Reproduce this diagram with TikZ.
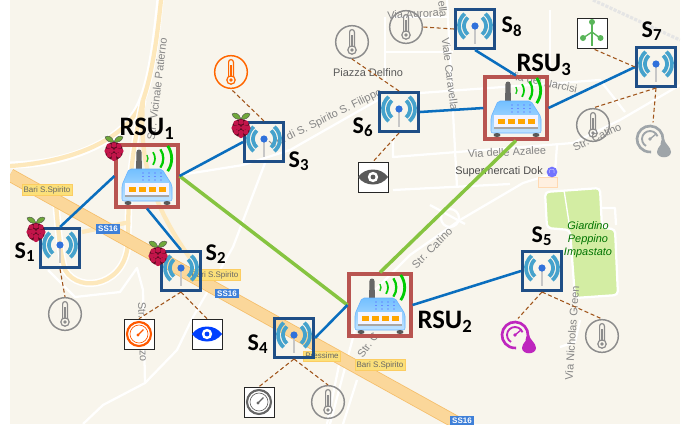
\documentclass[tikz,border=0pt]{standalone}
\usepackage{fontspec}
\usepackage{tikz}
\usetikzlibrary{positioning, arrows.meta}
\setmainfont{Liberation Sans}
\newfontfamily\labfont{Carlito}
\definecolor{map_bg}{HTML}{F8F5EC}
\definecolor{road_orange}{HTML}{FBD79A}
\definecolor{road_edge}{HTML}{F5BE6A}
\definecolor{road_yellow}{HTML}{FDE8BC}
\definecolor{park_green}{HTML}{D3EDA3}
\definecolor{box_navy}{HTML}{1F4E86}
\definecolor{rsu_red}{HTML}{B85450}
\definecolor{link_blue}{HTML}{0A6EBE}
\definecolor{link_green}{HTML}{86C440}
\definecolor{tie_brown}{HTML}{A0541A}
\definecolor{wifi_blue}{HTML}{45A2CC}
\definecolor{tag_yellow}{HTML}{FBE07A}
\definecolor{tag_blue}{HTML}{3F80D8}
\definecolor{berry_red}{HTML}{C2154A}
\definecolor{berry_dark}{HTML}{5A0A20}
\definecolor{leaf_green}{HTML}{6FA83A}
\newcommand{\sublab}[2]{#1\textsubscript{#2}}

\begin{document}
\begin{tikzpicture}[
    x=0.75pt,
    y=-0.75pt,
    every node/.style={align=center},
    map_text/.style={text=black!48, font=\fontsize{8.2}{10}\selectfont, inner sep=0pt},
    road_tag/.style={
        rectangle,
        fill=tag_yellow,
        draw=tag_yellow!80!orange,
        line width=0.3pt,
        text=black!60,
        inner sep=1.4pt,
        font=\fontsize{6}{6.5}\selectfont
    },
    ss_tag/.style={
        rectangle,
        fill=tag_blue,
        text=white,
        inner sep=1.6pt,
        font=\bfseries\fontsize{6}{6.5}\selectfont
    },
    road_white/.style={draw=white, line width=1.7pt, line join=round},
    road_soft/.style={draw=road_yellow, line width=3.2pt, line join=round},
    sensor_box/.style={
        rectangle,
        draw=box_navy,
        line width=2.3pt,
        minimum size=29.2pt,
        inner sep=0pt
    },
    rsu_box/.style={
        rectangle,
        draw=rsu_red,
        line width=2.3pt,
        minimum size=46.5pt,
        inner sep=0pt
    },
    ring_icon/.style={circle, draw=#1, line width=1.1pt, minimum size=24.5pt, inner sep=0pt},
    square_icon/.style={rectangle, draw=black!85, fill=white, line width=0.5pt, minimum size=22.5pt, inner sep=0pt},
    free_icon/.style={circle, minimum size=26pt, inner sep=0pt},
    lab/.style={font=\labfont\bfseries\fontsize{18}{20}\selectfont, inner sep=0pt},
    rsu_lab/.style={font=\labfont\bfseries\fontsize{20}{22}\selectfont, inner sep=0pt},
    wire/.style={draw=link_blue, line width=1.9pt},
    trunk/.style={draw=link_green, line width=2.6pt},
    tie/.style={draw=tie_brown, line width=0.8pt, densely dashed},
    pics/wifi/.style={code={
        \draw [line width=2.2pt, black!22] (0,-2) -- (0,15);
        \fill [wifi_blue!70!blue] (0,-3) circle (3.6);
        \draw [wifi_blue, line width=2.8pt] (7.1,-11.4) arc [start angle=-50, end angle=50, radius=11];
        \draw [wifi_blue, line width=2.8pt] (-7.1,-11.4) arc [start angle=230, end angle=130, radius=11];
        \draw [wifi_blue, line width=2.8pt] (10.3,-15.3) arc [start angle=-50, end angle=50, radius=16];
        \draw [wifi_blue, line width=2.8pt] (-10.3,-15.3) arc [start angle=230, end angle=130, radius=16];
    }},
    pics/router/.style={code={
        \fill [black!60] (-11,-6) -- (-10.5,-24) arc [start angle=180, end angle=360, radius=2.5] -- (-5,-6) -- cycle;
        \draw [top color=blue!45!cyan!55, bottom color=blue!45!cyan!25, draw=blue!50!cyan!60, line width=0.4pt, rounded corners=1.5pt]
            (-18,-7) -- (15,-7) -- (25,9) -- (25,25) -- (-25,25) -- (-25,9) -- cycle;
        \fill [white!70!blue!15] (-22,7) rectangle (22,19);
        \fill [black!35] (-22,19) rectangle (22,21);
        \foreach \px in {-15,-5,5,15} {
            \fill [orange!70!yellow] (\px-3.5,10.5) rectangle (\px+3.5,15.5);
        }
        \foreach \px in {-4,2,8,14} {
            \fill [blue!70] (\px,-3) circle (0.6);
            \fill [blue!70] (\px,0.5) circle (0.6);
            \fill [blue!70] (\px,4) circle (0.6);
        }
        \fill [black!65] (-19,27) ellipse (3.5 and 2);
        \fill [black!65] (20,27) ellipse (3.5 and 2);
        \draw [green!75!black!90, line width=1pt] (-0.1,-21) arc [start angle=-35, end angle=35, radius=6];
        \draw [green!80!black, line width=1.3pt] (6,-23.8) arc [start angle=-35, end angle=35, radius=11];
        \draw [green!80!black, line width=1.7pt] (13.4,-26.7) arc [start angle=-35, end angle=35, radius=16];
        \draw [green!80!black, line width=2.1pt] (20.7,-30.1) arc [start angle=-35, end angle=35, radius=22];
    }},
    pics/berry/.style={code={
        \fill [leaf_green, draw=black!70, line width=0.3pt] (0,-6) .. controls (-2,-12) and (-6,-13) .. (-9,-11) .. controls (-8,-7) and (-4,-5) .. (0,-6);
        \fill [leaf_green, draw=black!70, line width=0.3pt] (0,-6) .. controls (2,-12) and (6,-13) .. (9,-11) .. controls (8,-7) and (4,-5) .. (0,-6);
        \fill [berry_dark] (0,3) circle (9);
        \foreach \px/\py in {0/-3,-5/-2,5/-2,-2.7/2.5,2.7/2.5,-7/3,7/3,0/7.5,-4.8/7,4.8/7,0/10.5} {
            \fill [berry_red] (\px,\py) circle (2.6);
        }
    }},
    pics/therm/.style={code={
        \draw [#1, line width=0.9pt, fill=none] (-2.4,5) -- (-2.4,-10) arc [start angle=180, end angle=360, radius=2.4] -- (2.4,5);
        \draw [#1, line width=0.9pt] (0,8) circle (4.2);
        \fill [#1] (0,8) circle (1.9);
        \draw [#1, line width=0.8pt] (0,5) -- (0,-7);
    }},
    pics/gauge/.style={code={
        \draw [#1, line width=1.6pt] (0,0) circle (12);
        \draw [#1, line width=0.5pt] (0,0) circle (9);
        \draw [#1, line width=0.9pt] (-1,1) -- (4.5,-4.5);
        \fill [#1] (-1,1) circle (1.6);
    }},
    pics/eye/.style={code={
        \fill [#1] (-15,0) .. controls (-8,-10) and (8,-10) .. (15,0) .. controls (8,10) and (-8,10) .. (-15,0) -- cycle;
        \fill [white] (0,0) circle (5.2);
        \fill [#1] (0,0) circle (2.4);
    }},
    pics/branch/.style={code={
        \draw [#1, line width=1.3pt] (0,-10) -- (0,13);
        \draw [#1, line width=1pt] (0,-1) -- (-9,5);
        \draw [#1, line width=1pt] (0,-1) -- (8,5);
        \fill [#1] (0,-11) circle (3);
        \fill [#1] (-9,5) circle (3);
        \fill [#1] (8.5,5) circle (3);
    }},
    pics/gaugedrop/.style={code={
        \draw [#1, line width=2pt] (-3,-1) ++(25:13) arc [start angle=25, end angle=-275, radius=13];
        \draw [#1, line width=1.4pt] (-3,-1) ++(-20:8) arc [start angle=-20, end angle=-240, radius=8];
        \draw [#1, line width=1pt] (-3,-1) -- (3,-6);
        \fill [#1] (-3,-1) circle (1.8);
        \fill [#1] (11,-1) .. controls (12,4) and (18,7) .. (18,12) .. controls (18,19) and (4,19) .. (4,12) .. controls (4,7) and (10,4) .. (11,-1) -- cycle;
    }}
]
    \useasboundingbox (0,0) rectangle (694,430);
    % map
    \begin{scope}
    \clip (10,0) rectangle (680,424);
    \fill [map_bg] (10,0) rectangle (680,424);
    % soft roads
    \draw [road_white, line width=5.5pt] (160,0) .. controls (155,50) and (150,80) .. (142,100) .. controls (125,145) and (60,165) .. (10,165);
    \draw [road_soft] (161,0) .. controls (156,50) and (150,80) .. (143,100) .. controls (125,145) and (60,163) .. (10,166);
    \draw [road_white, line width=5.5pt] (143,100) .. controls (132,150) and (128,190) .. (128,240) .. controls (128,285) and (80,295) .. (65,270) .. controls (60,255) and (58,225) .. (56,205);
    \draw [road_soft] (143,100) .. controls (132,150) and (128,190) .. (128,240) .. controls (128,285) and (80,295) .. (65,270) .. controls (60,255) and (58,225) .. (56,205);
    \draw [road_soft] (143,100) .. controls (140,150) and (145,195) .. (190,258);
    \draw [road_soft] (82,232) -- (130,222);
    % white roads
    \draw [road_white] (83,424) -- (103,405) -- (145,383) -- (177,350) -- (193,317) -- (233,247) -- (265,163);
    \draw [road_white] (145,383) -- (143,290) -- (137,268) -- (120,292) -- (75,297) -- (48,270);
    \draw [road_white] (180,175) -- (243,165) -- (290,150) -- (378,100);
    \draw [road_white] (385,17) -- (385,83);
    \draw [road_white] (447,0) -- (457,187);
    \draw [road_white] (385,52) -- (453,52);
    \draw [road_white] (390,17) -- (447,17);
    \draw [road_white] (550,10) -- (550,73);
    \draw [road_white] (420,93) -- (600,80) -- (625,112);
    \draw [road_white] (393,137) -- (393,157) -- (573,143) -- (620,120) -- (680,85);
    \draw [road_white] (557,145) -- (555,173) -- (523,183) -- (460,220) -- (410,255) -- (375,290) -- (355,330) -- (330,424);
    \draw [road_white] (393,190) -- (510,184);
    \draw [road_white] (340,360) -- (327,424);
    \draw [road_white] (357,380) -- (343,424);
    \draw [road_white] (430,205) -- (465,224);
    \draw [road_white] (450,218) circle (9);
    \draw [road_white] (602,208) -- (615,208) -- (616,225);
    \draw [road_white] (560,347) -- (575,342) -- (580,320);
    \draw [black!10, line width=2.4pt, densely dotted] (593,0) -- (680,40);
    % SS16
    \draw [road_edge, line width=10pt] (10,175) -- (470,430);
    \draw [road_orange, line width=8.8pt] (10,175) -- (470,430);
    % park and shop
    \draw [road_white, fill=park_green, rounded corners=3pt] (545,192) -- (600,188) -- (602,228) -- (615,229) -- (618,295) -- (575,298) -- (570,230) -- (547,228) -- cycle;
    \draw [road_white, line width=1pt] (564,190) -- (570,229);
    \draw [orange!30, fill=orange!12, line width=0.5pt] (538,177) rectangle (557,187);
    % map texts
    \node [map_text, rotate=83] (via_pat) at (157,89) {Str. Vicinale Patierno};
    \node [map_text, rotate=26] (via_spi) at (326,119) {Via di S. Spirito S. Filippo};
    \node [map_text, rotate=3] (via_aur) at (413,14) {Via Aurora};
    \node [map_text, text=black!65] (via_del) at (368,73) {Piazza Delfino};
    \node [map_text, rotate=-83] (via_car) at (450,74) {Viale Caravella};
    \node [map_text, rotate=-83] (via_car_top) at (443,9) {ella};
    \node [map_text, rotate=-12] (via_nar) at (543,82) {Via dei Narcisi};
    \node [map_text, rotate=3] (via_aza) at (507,152) {Via delle Azalee};
    \node [map_text, text=black!70] (via_dok) at (499,172) {Supermercati Dok};
    \node [circle, fill=blue!55!white, text=white, inner sep=0pt, minimum size=8pt, font=\fontsize{5}{5}\selectfont] (dok_dot) at (552,172) {$\cap$};
    \node [map_text, rotate=25] (via_cat_a) at (597,137) {Str. Catino};
    \node [map_text, rotate=45] (via_cat_b) at (432,248) {Str. Catino};
    \node [map_text, rotate=55] (via_cat_c) at (368,345) {Str. C};
    \node [map_text, rotate=86] (via_gre) at (572,333) {Via Nicholas Green};
    \node [map_text, rotate=-88] (via_paz) at (143,332) {Str. Palazzo};
    \node [map_text, text=green!45!black, font=\itshape\fontsize{8.2}{9.8}\selectfont] (park_name) at (588,240) {Giardino\\Peppino\\Impastato};
    \node [road_tag] (tag_a) at (47,190) {Bari S.Spirito};
    \node [road_tag] (tag_b) at (215,275) {Bari S.Spirito};
    \node [road_tag] (tag_c) at (322,356) {Pressime};
    \node [road_tag] (tag_d) at (380,365) {Bari S.Spirito};
    \node [ss_tag] (ss_a) at (108,229) {SS16};
    \node [ss_tag] (ss_b) at (227,293.5) {SS16};
    \node [ss_tag] (ss_c) at (462,421) {SS16};
    \end{scope}

    % nodes
    \node [rsu_box] (RSU1) at (147,176) {};
    \node [rsu_box] (RSU2) at (380,305) {};
    \node [rsu_box] (RSU3) at (516,108) {};
    \node [sensor_box] (S1) at (60,248) {};
    \node [sensor_box] (S2) at (181,271) {};
    \node [sensor_box] (S3) at (264,142) {};
    \node [sensor_box] (S4) at (294,338) {};
    \node [sensor_box] (S5) at (542,271) {};
    \node [sensor_box] (S6) at (399,112) {};
    \node [sensor_box] (S7) at (656,67) {};
    \node [sensor_box] (S8) at (475,29) {};
    \node [ring_icon=black!45] (temp1) at (65,314) {};
    \node [square_icon] (gauge2) at (139,334) {};
    \node [square_icon] (eye2) at (207,334) {};
    \node [ring_icon=orange!80!red] (temp3) at (231,72) {};
    \node [square_icon] (gauge4) at (259,402) {};
    \node [ring_icon=black!45] (temp4) at (328,402) {};
    \node [free_icon] (drop5) at (518,336) {};
    \node [ring_icon=black!45] (temp5) at (602,336) {};
    \node [ring_icon=black!45] (temp6) at (352,42) {};
    \node [square_icon] (eye6) at (373,177) {};
    \node [square_icon] (tree7) at (592,33) {};
    \node [ring_icon=black!45] (temp7) at (593,125) {};
    \node [free_icon] (drop7) at (653,140) {};
    \node [ring_icon=black!45] (temp8) at (406,27) {};

    % links
    \draw [trunk] (RSU1.east) -- (RSU2.west);
    \draw [trunk] (RSU3.south) -- (RSU2.north);
    \draw [wire] (S1.north) -- (RSU1.west);
    \draw [wire] (S2.north) -- (RSU1.south);
    \draw [wire] (S3.west) -- (RSU1.east);
    \draw [wire] (S4.east) -- (RSU2.west);
    \draw [wire] (S5.west) -- (RSU2.east);
    \draw [wire] (S6.east) -- (RSU3.west);
    \draw [wire] (S7.west) -- (RSU3.east);
    \draw [wire] (S8.south) -- (RSU3.north);
    \draw [tie] (S1.south) -- (temp1.north);
    \draw [tie] (S2.south) -- (gauge2.north);
    \draw [tie] (S2.south) -- (eye2.north);
    \draw [tie] (S3.north) -- (temp3.south);
    \draw [tie] (S4.south) -- (gauge4.north);
    \draw [tie] (S4.south) -- (temp4.north);
    \draw [tie] (S5.south) -- (drop5.north);
    \draw [tie] (S5.south) -- (temp5.north);
    \draw [tie] (S6.north) -- (temp6.south);
    \draw [tie] (S6.south) -- (eye6.north);
    \draw [tie] (S7.west) -- (tree7.south);
    \draw [tie] (S7.south) -- (temp7.north);
    \draw [tie] (S7.south) -- (drop7.north);
    \draw [tie] (S8.west) -- (temp8.east);

    % icons
    \pic at (RSU1) {router};
    \pic at (RSU2) {router};
    \pic at (RSU3) {router};
    \pic at (S1) {wifi};
    \pic at (S2) {wifi};
    \pic at (S3) {wifi};
    \pic at (S4) {wifi};
    \pic at (S5) {wifi};
    \pic at (S6) {wifi};
    \pic at (S7) {wifi};
    \pic at (S8) {wifi};
    \pic at (temp1) {therm=black!45};
    \pic at (temp3) {therm=orange!80!red};
    \pic at (temp4) {therm=black!45};
    \pic at (temp5) {therm=black!45};
    \pic at (temp6) {therm=black!45};
    \pic at (temp7) {therm=black!45};
    \pic at (temp8) {therm=black!45};
    \pic at (gauge2) {gauge=orange!70!red};
    \pic at (gauge4) {gauge=black!60};
    \pic at (eye2) {eye=blue!75!cyan};
    \pic at (eye6) {eye=black!65};
    \pic at (tree7) {branch=green!55!black!65};
    \pic at (drop5) {gaugedrop=violet!60!magenta!85};
    \pic at (drop7) {gaugedrop=cyan!15!black!45};
    \pic at (36,229) {berry};
    \pic at (158,253) {berry};
    \pic at (241,125) {berry};
    \pic at (114,148) {berry};

    % labels
    \node [rsu_lab] (lab_RSU1) at (147,129) {\sublab{RSU}{1}};
    \node [rsu_lab] (lab_RSU2) at (445,322) {\sublab{RSU}{2}};
    \node [rsu_lab] (lab_RSU3) at (544,65) {\sublab{RSU}{3}};
    \node [lab] (lab_S1) at (25,252) {\sublab{S}{1}};
    \node [lab] (lab_S2) at (216,254) {\sublab{S}{2}};
    \node [lab] (lab_S3) at (299,161) {\sublab{S}{3}};
    \node [lab] (lab_S4) at (258,344) {\sublab{S}{4}};
    \node [lab] (lab_S5) at (542,236) {\sublab{S}{5}};
    \node [lab] (lab_S6) at (363,127) {\sublab{S}{6}};
    \node [lab] (lab_S7) at (652,31) {\sublab{S}{7}};
    \node [lab] (lab_S8) at (512,27) {\sublab{S}{8}};
\end{tikzpicture}
\end{document}
